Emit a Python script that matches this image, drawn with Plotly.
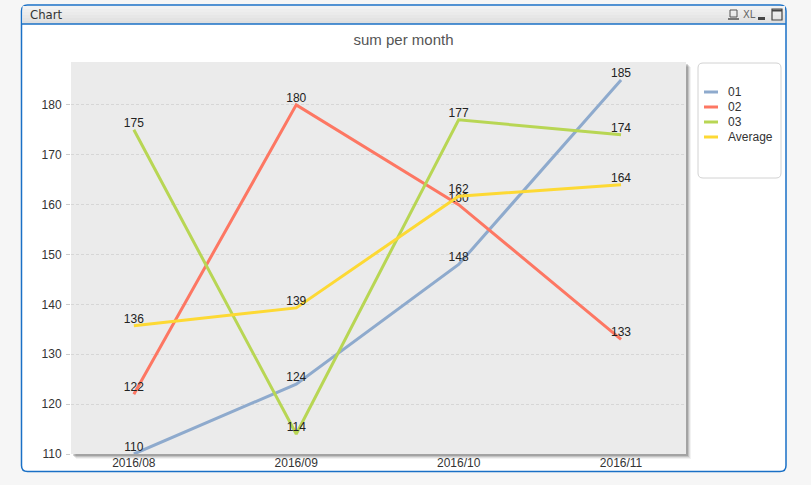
import plotly.graph_objects as go

# ---- data ----
months = ["2016/08", "2016/09", "2016/10", "2016/11"]
s01 = [110, 124, 148, 185]
s02 = [122, 180, 160, 133]
s03 = [175, 114, 177, 174]
avg = [135.7, 139.3, 161.7, 164]
series_names = ["01", "02", "03", "Average"]
series_values = [s01, s02, s03, avg]
series_colors = ["#8eaacd", "#fd7763", "#b8d654", "#fdd934"]
y_ticks = [110, 120, 130, 140, 150, 160, 170, 180]

W, H = 811, 485
L, R, T, B = 71, 686, 62, 454


def px(x):
    return (x - L) / (R - L)


def py(y):
    return (B - y) / (B - T)


def rrect(x0, y0, x1, y1, r):
    X0, X1 = px(x0), px(x1)
    Y0, Y1 = py(y0), py(y1)
    rx = r / (R - L)
    ry = r / (B - T)
    return (f"M{X0+rx},{Y0} L{X1-rx},{Y0} Q{X1},{Y0} {X1},{Y0-ry} "
            f"L{X1},{Y1+ry} Q{X1},{Y1} {X1-rx},{Y1} L{X0+rx},{Y1} "
            f"Q{X0},{Y1} {X0},{Y1+ry} L{X0},{Y0-ry} Q{X0},{Y0} {X0+rx},{Y0} Z")


fig = go.Figure()
for name, vals, col in zip(series_names, series_values, series_colors):
    fig.add_trace(go.Scatter(
        x=months, y=vals, name=name, mode="lines+text",
        line=dict(color=col, width=3),
        texttemplate="%{y:.0f}", textposition="top center",
        textfont=dict(family="Liberation Sans, Arial", size=12, color="#222"),
        showlegend=False, cliponaxis=False,
    ))

shapes = []
shapes.append(dict(type="path", xref="paper", yref="paper", layer="below",
                   path=rrect(21.5, 5, 786, 471.5, 6),
                   fillcolor="white", line=dict(color="#1a70c6", width=1.5)))
bar_cols = ["#f2f2f2", "#eeeeee", "#ebebeb", "#e7e7e7", "#e3e3e3", "#dfdfdf"]
top, bot = 6, 24
n = len(bar_cols)
for i, c in enumerate(bar_cols):
    ya = top + (bot - top) * i / n
    yb = top + (bot - top) * (i + 1) / n
    shapes.append(dict(type="rect", xref="paper", yref="paper", layer="below",
                       x0=px(22.5), x1=px(785), y0=py(ya), y1=py(yb),
                       fillcolor=c, line=dict(width=0)))
shapes.append(dict(type="line", xref="paper", yref="paper", layer="below",
                   x0=px(22), x1=px(786), y0=py(24), y1=py(24),
                   line=dict(color="#1a70c6", width=1.5)))
shapes.append(dict(type="rect", xref="paper", yref="paper", layer="below",
                   x0=px(730), x1=px(737), y0=py(10), y1=py(17),
                   line=dict(color="#555", width=1), fillcolor="rgba(0,0,0,0)"))
shapes.append(dict(type="line", xref="paper", yref="paper", layer="below",
                   x0=px(728), x1=px(739), y0=py(19), y1=py(19),
                   line=dict(color="#555", width=1.5)))
shapes.append(dict(type="rect", xref="paper", yref="paper", layer="below",
                   x0=px(758), x1=px(765), y0=py(17), y1=py(20),
                   line=dict(width=0), fillcolor="#444"))
shapes.append(dict(type="rect", xref="paper", yref="paper", layer="below",
                   x0=px(772), x1=px(782), y0=py(9), y1=py(20),
                   line=dict(color="#444", width=1.2), fillcolor="rgba(0,0,0,0)"))
shapes.append(dict(type="line", xref="paper", yref="paper", layer="below",
                   x0=px(772), x1=px(782), y0=py(10.5), y1=py(10.5),
                   line=dict(color="#444", width=2)))
for off, a in [(5, 0.05), (4, 0.08), (3, 0.12), (2, 0.16)]:
    shapes.append(dict(type="rect", xref="paper", yref="paper", layer="below",
                       x0=px(L + off), x1=px(R + off), y0=py(B + off), y1=py(T + off),
                       fillcolor=f"rgba(0,0,0,{a})", line=dict(width=0)))
shapes.append(dict(type="rect", xref="paper", yref="paper", layer="below",
                   x0=0, x1=1, y0=0, y1=1, fillcolor="#ebebeb", line=dict(width=0)))
shapes.append(dict(type="path", xref="paper", yref="paper", layer="below",
                   path=rrect(698, 63, 781, 178, 5),
                   fillcolor="white", line=dict(color="#d2d2d2", width=1)))

annotations = [
    dict(text="Chart", x=px(28), y=py(15), xref="paper", yref="paper",
         xanchor="left", yanchor="middle", showarrow=False,
         font=dict(family="DejaVu Sans Condensed, DejaVu Sans", size=13, color="#333")),
    dict(text="XL", x=px(741), y=py(14.5), xref="paper", yref="paper",
         xanchor="left", yanchor="middle", showarrow=False,
         font=dict(family="DejaVu Sans Condensed, DejaVu Sans", size=11, color="#666")),
]
for i, (name, col) in enumerate(zip(series_names, series_colors)):
    yy = 92 + 15 * i
    shapes.append(dict(type="line", xref="paper", yref="paper", layer="above",
                       x0=px(704), x1=px(718), y0=py(yy), y1=py(yy),
                       line=dict(color=col, width=3)))
    annotations.append(dict(text=name, x=px(726), y=py(yy), xref="paper", yref="paper",
                            xanchor="left", yanchor="middle", showarrow=False,
                            font=dict(family="Liberation Sans, Arial", size=12, color="#333")))

fig.update_layout(
    width=W, height=H,
    margin=dict(l=L, r=W - R, t=T, b=H - B, pad=0),
    paper_bgcolor="#f6f6f6", plot_bgcolor="rgba(0,0,0,0)",
    title=dict(text="sum per month", x=px(403.5), xref="paper", xanchor="center",
               y=1 - 40 / H, yanchor="middle",
               font=dict(family="Liberation Sans, Arial", size=15, color="#555")),
    shapes=shapes, annotations=annotations, showlegend=False,
    xaxis=dict(type="category", range=[-0.387, 3.40], showgrid=False, zeroline=False,
               showline=False, ticks="", tickfont=dict(family="Liberation Sans, Arial", size=12, color="#333"),
               fixedrange=True),
    yaxis=dict(range=[110, 188.6], tickvals=y_ticks, showgrid=True, gridcolor="#d6d6d6",
               griddash="3px,2px", gridwidth=1, zeroline=False, showline=False,
               ticks="outside", ticklen=4, tickcolor="#cccccc",
               ticklabelstandoff=2,
               tickfont=dict(family="Liberation Sans, Arial", size=12, color="#333"),
               fixedrange=True),
)

fig.write_html("out.html", config={"displayModeBar": False},
               post_script="document.body.style.margin='0';document.body.style.background='#f6f6f6';")
